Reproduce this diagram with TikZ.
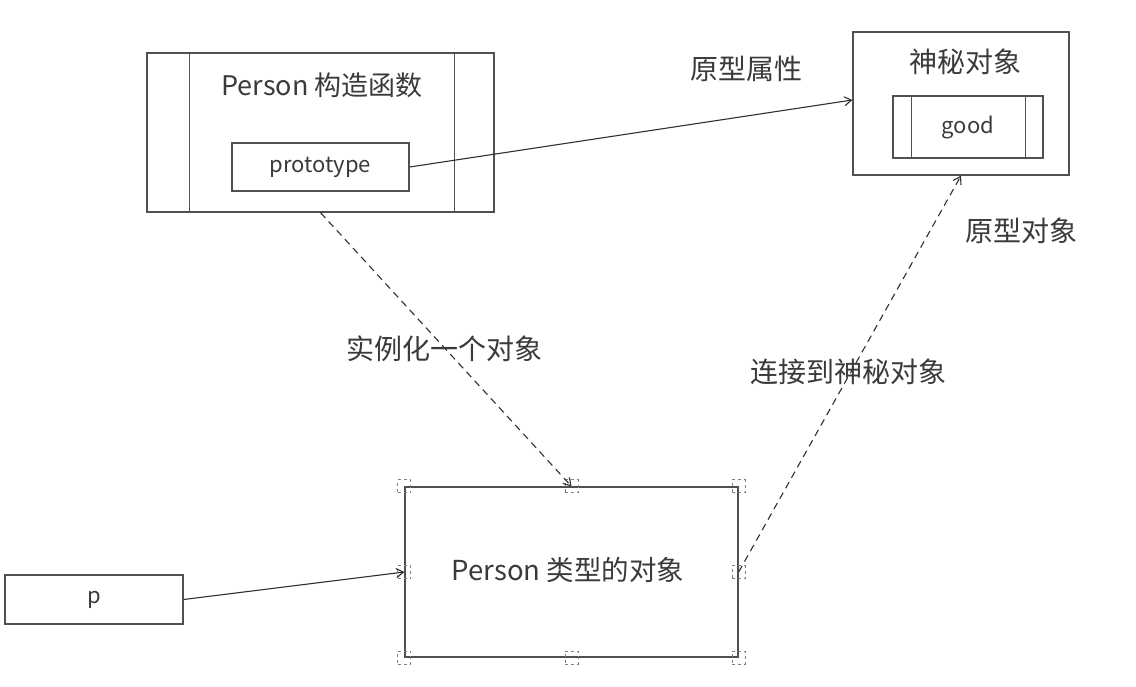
\documentclass[tikz,border=0pt]{standalone}
\usepackage{fontspec}
\setmainfont{Noto Sans CJK SC}
\usetikzlibrary{arrows.meta}
\definecolor{txt}{HTML}{3A3A3A}
\definecolor{ln}{HTML}{303030}
\definecolor{bx}{HTML}{505050}
\tikzset{
  box/.style={draw=bx, line width=1.3pt, inner sep=0pt, text=txt},
  small/.style={font=\fontsize{22}{22}\selectfont},
  lbl/.style={text=txt, font=\fontsize{28}{28}\selectfont, inner sep=0pt},
  conn/.style={draw=ln, line width=1.1pt, -{Straight Barb[length=7pt,width=9pt]}},
  dconn/.style={conn, dash pattern=on 7pt off 5pt},
  handle/.style={draw=gray, dashed, line width=0.9pt, minimum size=13pt, inner sep=0pt}
}
\begin{document}
\begin{tikzpicture}[x=1pt,y=-1pt]
\useasboundingbox[fill=white] (0,0) rectangle (1136,686);
% Person constructor
\node[box, minimum width=347pt, minimum height=159pt] (fn) at (320.5,132.5) {};
\draw[bx, line width=1.3pt] ([xshift=43pt]fn.north west) -- ([xshift=43pt]fn.south west);
\draw[bx, line width=1.3pt] ([xshift=-40pt]fn.north east) -- ([xshift=-40pt]fn.south east);
\node[lbl, font=\fontsize{27}{27}\selectfont] (fntitle) at (322,85) {Person 构造函数};
\node[box, small, minimum width=177pt, minimum height=48pt] (proto) at (320.5,167) {prototype};
% mystery object
\node[box, minimum width=216pt, minimum height=143pt] (my) at (961,103.5) {};
\node[lbl] (mytitle) at (965,62) {神秘对象};
\node[box, small, minimum width=150pt, minimum height=62pt] (good) at (968,127) {good};
\draw[bx, line width=1.3pt] ([xshift=19pt]good.north west) -- ([xshift=19pt]good.south west);
\draw[bx, line width=1.3pt] ([xshift=-18pt]good.north east) -- ([xshift=-18pt]good.south east);
% object
\node[box, minimum width=333pt, minimum height=170pt] (obj) at (571.5,572) {};
\node[lbl, font=\fontsize{27.5}{27.5}\selectfont] (objtitle) at (568,570) {Person 类型的对象};
\foreach \a in {north west,north,north east,east,south east,south,south west,west}
  \node[handle] at (obj.\a) {};
% p
\node[box, small, minimum width=178pt, minimum height=49pt] (p) at (94,599.5) {p};
% connectors
\draw[conn] (proto.east) -- ([yshift=3.5pt]my.west);
\draw[dconn] (fn.south) -- (obj.north);
\draw[dconn] (obj.east) -- (my.south);
\draw[conn] (p.east) -- (obj.west);
% labels
\node[lbl] (l1) at (746,69) {原型属性};
\node[lbl] (l2) at (1021,231) {原型对象};
\node[lbl] (l3) at (444,349) {实例化一个对象};
\node[lbl] (l4) at (848,372) {连接到神秘对象};
\end{tikzpicture}
\end{document}
